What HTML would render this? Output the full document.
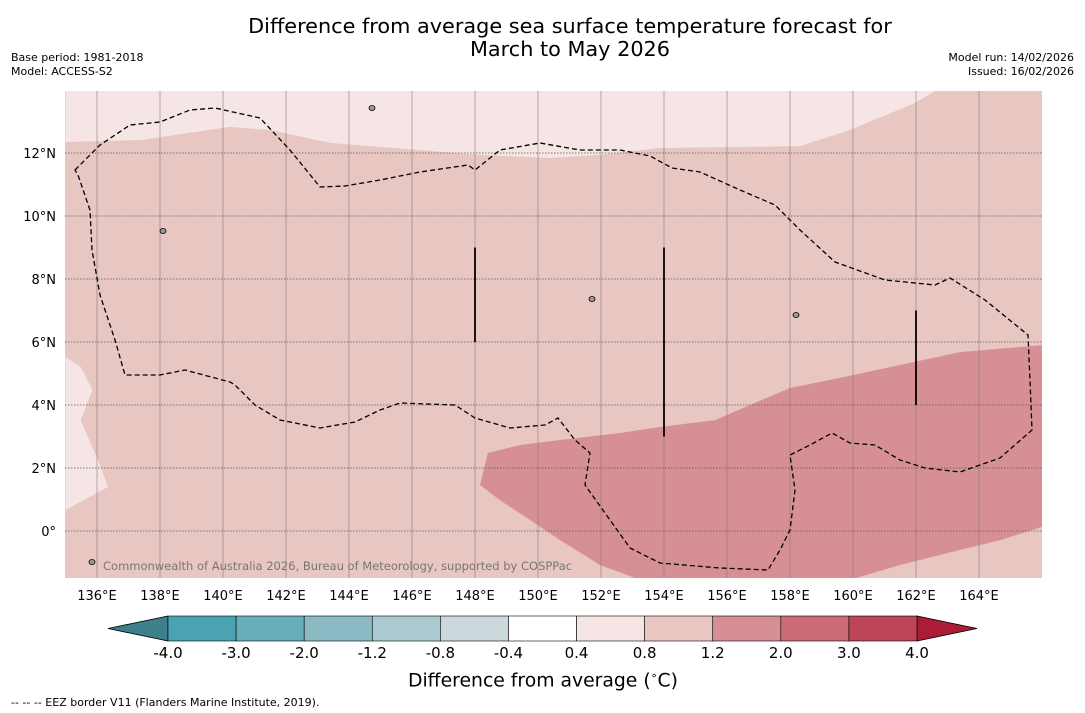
<!DOCTYPE html>
<html><head><meta charset="utf-8"><style>
body{margin:0;background:#fff;font-family:"DejaVu Sans","Liberation Sans",sans-serif;}
#wrap{position:relative;width:1085px;height:713px;overflow:hidden;}
.t{position:absolute;font-size:12px;color:#000;}
svg text{font-family:"DejaVu Sans","Liberation Sans",sans-serif;}
</style></head><body>
<div id="wrap">
<div class="t" style="left:0;width:1140px;top:15px;text-align:center;font-size:20.8px;line-height:23px;">Difference from average sea surface temperature forecast for<br>March to May 2026</div>
<div class="t" style="left:11px;top:51px;font-size:11px;line-height:14px;">Base period: 1981-2018<br>Model: ACCESS-S2</div>
<div class="t" style="right:11px;top:51px;text-align:right;font-size:11px;line-height:14px;">Model run: 14/02/2026<br>Issued: 16/02/2026</div>
<svg id="svg" width="1085" height="713" style="position:absolute;left:0;top:0"></svg>
<div class="t" style="left:408px;top:669px;font-size:18.8px;">Difference from average (<sup style="font-size:11px">∘</sup>C)</div>
<div class="t" style="left:11px;top:696px;font-size:11px;">--  --  -- EEZ border V11 (Flanders Marine Institute, 2019).</div>
</div>
<script>
const lonTicks=[136,138,140,142,144,146,148,150,152,154,156,158,160,162,164];
const latTicks=[12,10,8,6,4,2,0];
const cbLevels=["-4.0","-3.0","-2.0","-1.2","-0.8","-0.4","0.4","0.8","1.2","2.0","3.0","4.0"];
const cbColors=["#4aa3b3","#69adba","#8bbac4","#abcacf","#cbd8dc","#ffffff","#f5e6e5","#e8c6c2","#d58f95","#cd6b75","#be4555"];
const lightTop=[[135,12.35],[137.37,12.41],[140.22,12.83],[141.49,12.73],[143.4,12.32],[148.16,11.94],[150.38,11.84],[151.97,11.94],[153.87,12.16],[158.32,12.22],[159.9,12.73],[161.97,13.59],[162.67,14],[166,14],[166,14.2],[135,14.2]];
const lightLeft=[[135,5.52],[135.48,5.21],[135.86,4.48],[135.48,3.52],[136.03,2.25],[136.35,1.4],[135,0.67]];
const warm=[[148.16,1.46],[148.41,2.48],[149.43,2.73],[150.7,2.89],[152.6,3.11],[153.87,3.3],[155.62,3.52],[156.73,4.0],[158.0,4.54],[159.59,4.86],[161.49,5.27],[163.4,5.68],[166,5.9],[166,0.13],[164.67,-0.29],[163.4,-0.6],[161.49,-1.08],[159.9,-1.55],[153.24,-1.55],[151.97,-1.08],[150.7,-0.29],[149.75,0.35],[148.79,0.98]];
const vlines=[[148,9,6],[154,9,3],[162,7,4]];
const X=lon=>97+(lon-136)*31.5, Y=lat=>531-lat*31.5;
const NS='http://www.w3.org/2000/svg', svg=document.getElementById('svg');
function mk(t,a,p){const e=document.createElementNS(NS,t);for(const k in a)e.setAttribute(k,a[k]);(p||svg).appendChild(e);return e;}
const defs=mk('defs',{});const cp=mk('clipPath',{id:'c'},defs);mk('rect',{x:65,y:91,width:977,height:487},cp);
const g=mk('g',{'clip-path':'url(#c)'});
const bg=mk('rect',{x:65,y:91,width:977,height:487,fill:'#e8c6c2'},g);

function poly(pts,fill,name){const e=mk('polygon',{points:pts.map(p=>X(p[0])+','+Y(p[1])).join(' '),fill:fill},g);
}
poly(lightTop,'#f5e6e5','anomaly-0.4-0.8-north');
poly(lightLeft,'#f5e6e5','anomaly-0.4-0.8-west');
poly(warm,'#d58f95','anomaly-1.2-2.0');
lonTicks.forEach(l=>{const e=mk('line',{x1:X(l),x2:X(l),y1:91,y2:578,stroke:'#8a7a7a','stroke-width':0.6},g);

const t=mk('text',{x:X(l),y:600,'text-anchor':'middle','font-size':13});t.textContent=l+'°E';
});
latTicks.forEach(l=>{const e=mk('line',{x1:65,x2:1042,y1:Y(l),y2:Y(l),stroke:'#555','stroke-width':0.7,'stroke-dasharray':'1.5,1.5'},g);

const t=mk('text',{x:56,y:Y(l)+5,'text-anchor':'end','font-size':13});t.textContent=l===0?'0°':l+'°N';
});
const eez="M75,170 L100,145 130,125 160,122 190,110 215,108 260,118 290,150 320,187 345,186 380,180 420,172 468,165 475,170 500,150 540,143 580,150 620,150 650,156 672,168 700,172 740,190 775,205 800,230 835,262 885,280 935,285 950,278 985,300 1028,335 1030,380 1032,430 1000,458 960,472 925,468 900,460 875,445 850,443 832,433 810,445 790,455 795,490 790,530 780,550 768,570 720,568 660,563 630,548 610,520 585,485 590,453 575,440 558,418 545,425 510,428 475,418 455,405 400,403 380,410 355,422 320,428 280,420 255,405 235,385 230,382 185,370 160,375 125,375 115,340 100,295 92,250 90,210 78,175 Z";
const ez=mk('path',{d:eez,fill:'none',stroke:'#000','stroke-width':1.3,'stroke-dasharray':'5,3'},g);

vlines.forEach(v=>{const e=mk('line',{x1:X(v[0]),x2:X(v[0]),y1:Y(v[1]),y2:Y(v[2]),stroke:'#000','stroke-width':1.8},g);
});
[[372,108],[796,315],[92,562],[163,231],[592,299]].forEach(p=>{const e=mk('ellipse',{cx:p[0],cy:p[1],rx:3,ry:2.5,fill:'#999',stroke:'#000','stroke-width':0.8},g);
});
const wm=mk('text',{x:103,y:570,'font-size':11.5,fill:'#777'},g);wm.textContent='Commonwealth of Australia 2026, Bureau of Meteorology, supported by COSPPac';

const cx0=168,cx1=917,cy=616,ch=25,bw=(cx1-cx0)/cbColors.length;
const la=mk('polygon',{points:`108,${cy+ch/2} ${cx0},${cy} ${cx0},${cy+ch}`,fill:'#3d7f8a',stroke:'#000','stroke-width':0.8});

const ra=mk('polygon',{points:`977,${cy+ch/2} ${cx1},${cy} ${cx1},${cy+ch}`,fill:'#ad1c37',stroke:'#000','stroke-width':0.8});

cbColors.forEach((c,i)=>{const e=mk('rect',{x:cx0+i*bw,y:cy,width:bw,height:ch,fill:c,stroke:'#000','stroke-width':0.6});
});
cbLevels.forEach((l,i)=>{const t=mk('text',{x:cx0+i*bw,y:658,'text-anchor':'middle','font-size':15});t.textContent=l;
});
</script>
</body></html>
